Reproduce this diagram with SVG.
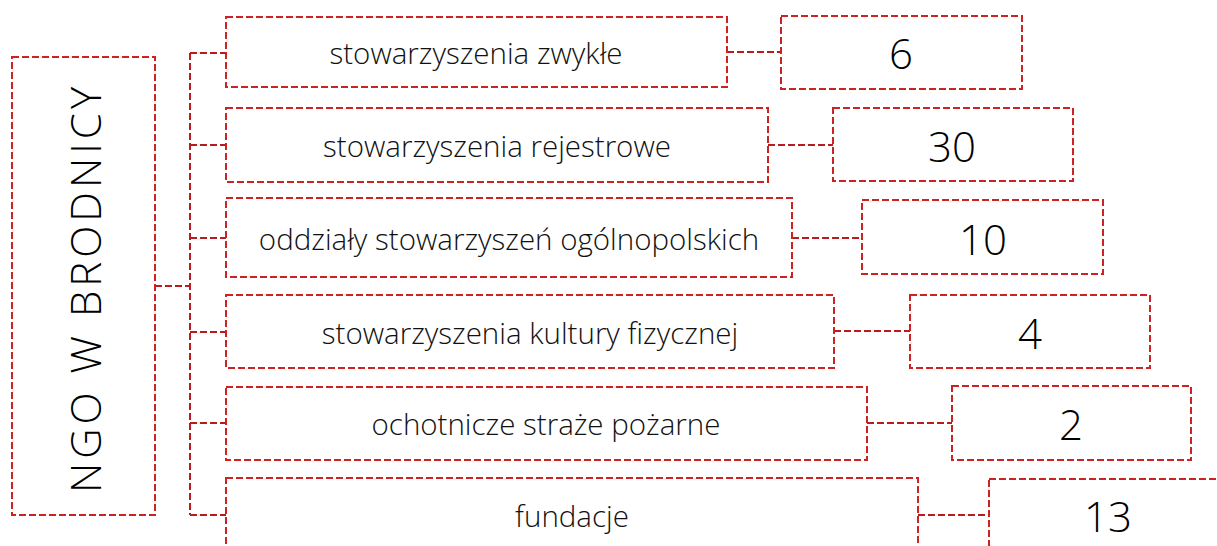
<svg xmlns="http://www.w3.org/2000/svg" width="1217" height="546" viewBox="0 0 1217 546">
<style>
.box{fill:#fff;stroke:#CC2222;stroke-width:2;stroke-dasharray:7,3}
.con{fill:none;stroke:#B81C1C;stroke-width:2;stroke-dasharray:7,3}
.lbl{font-family:"Open Sans","Liberation Sans",sans-serif;font-weight:300;font-size:29.5px;fill:#111;text-anchor:middle;dominant-baseline:central}
.num{font-family:"Open Sans","Liberation Sans",sans-serif;font-weight:300;font-size:42px;fill:#000;text-anchor:middle;dominant-baseline:central}
.title{font-family:"Open Sans","Liberation Sans",sans-serif;font-weight:300;font-size:42px;fill:#000;text-anchor:middle;dominant-baseline:central;letter-spacing:4px}
</style>
<rect width="1217" height="546" fill="#fff"/>
<g id="connectors">
<path class="con" d="M155,286 H190"/>
<path class="con" d="M190,53 V515"/>
<path class="con" d="M190,53 H226 M190,145 H226 M190,238 H226 M190,332 H226 M190,423 H226 M190,515 H226"/>
<path class="con" d="M727,52 H781"/>
<path class="con" d="M768,145 H833"/>
<path class="con" d="M792,238 H862"/>
<path class="con" d="M834,331 H910"/>
<path class="con" d="M867,423 H952"/>
<path class="con" d="M918,515 H989"/>
</g>
<g id="root">
<rect class="box" x="12" y="57" width="143" height="458"/>
<text class="title" transform="translate(84,288) rotate(-90)">NGO W BRODNICY</text>
</g>
<g id="n1">
<rect class="box" x="226" y="17" width="501" height="70"/>
<text class="lbl" x="476" y="52">stowarzyszenia zwykłe</text>
</g>
<g id="v1">
<rect class="box" x="781" y="16" width="241" height="73"/>
<text class="num" x="901" y="52">6</text>
</g>
<g id="n2">
<rect class="box" x="226" y="108" width="542" height="74"/>
<text class="lbl" x="497" y="145">stowarzyszenia rejestrowe</text>
</g>
<g id="v2">
<rect class="box" x="833" y="108" width="240" height="73"/>
<text class="num" x="952" y="145">30</text>
</g>
<g id="n3">
<rect class="box" x="226" y="198" width="566" height="79"/>
<text class="lbl" x="509" y="238">oddziały stowarzyszeń ogólnopolskich</text>
</g>
<g id="v3">
<rect class="box" x="862" y="200" width="241" height="74"/>
<text class="num" x="983" y="238">10</text>
</g>
<g id="n4">
<rect class="box" x="226" y="295" width="608" height="73"/>
<text class="lbl" x="530" y="332">stowarzyszenia kultury fizycznej</text>
</g>
<g id="v4">
<rect class="box" x="910" y="295" width="240" height="73"/>
<text class="num" x="1030" y="332">4</text>
</g>
<g id="n5">
<rect class="box" x="226" y="387" width="641" height="73"/>
<text class="lbl" x="546" y="423">ochotnicze straże pożarne</text>
</g>
<g id="v5">
<rect class="box" x="952" y="386" width="239" height="74"/>
<text class="num" x="1071" y="423">2</text>
</g>
<g id="n6">
<rect class="box" x="226" y="478" width="692" height="76"/>
<text class="lbl" x="572" y="515">fundacje</text>
</g>
<g id="v6">
<rect class="box" x="989" y="479" width="240" height="74"/>
<text class="num" x="1108" y="515">13</text>
</g>
</svg>
